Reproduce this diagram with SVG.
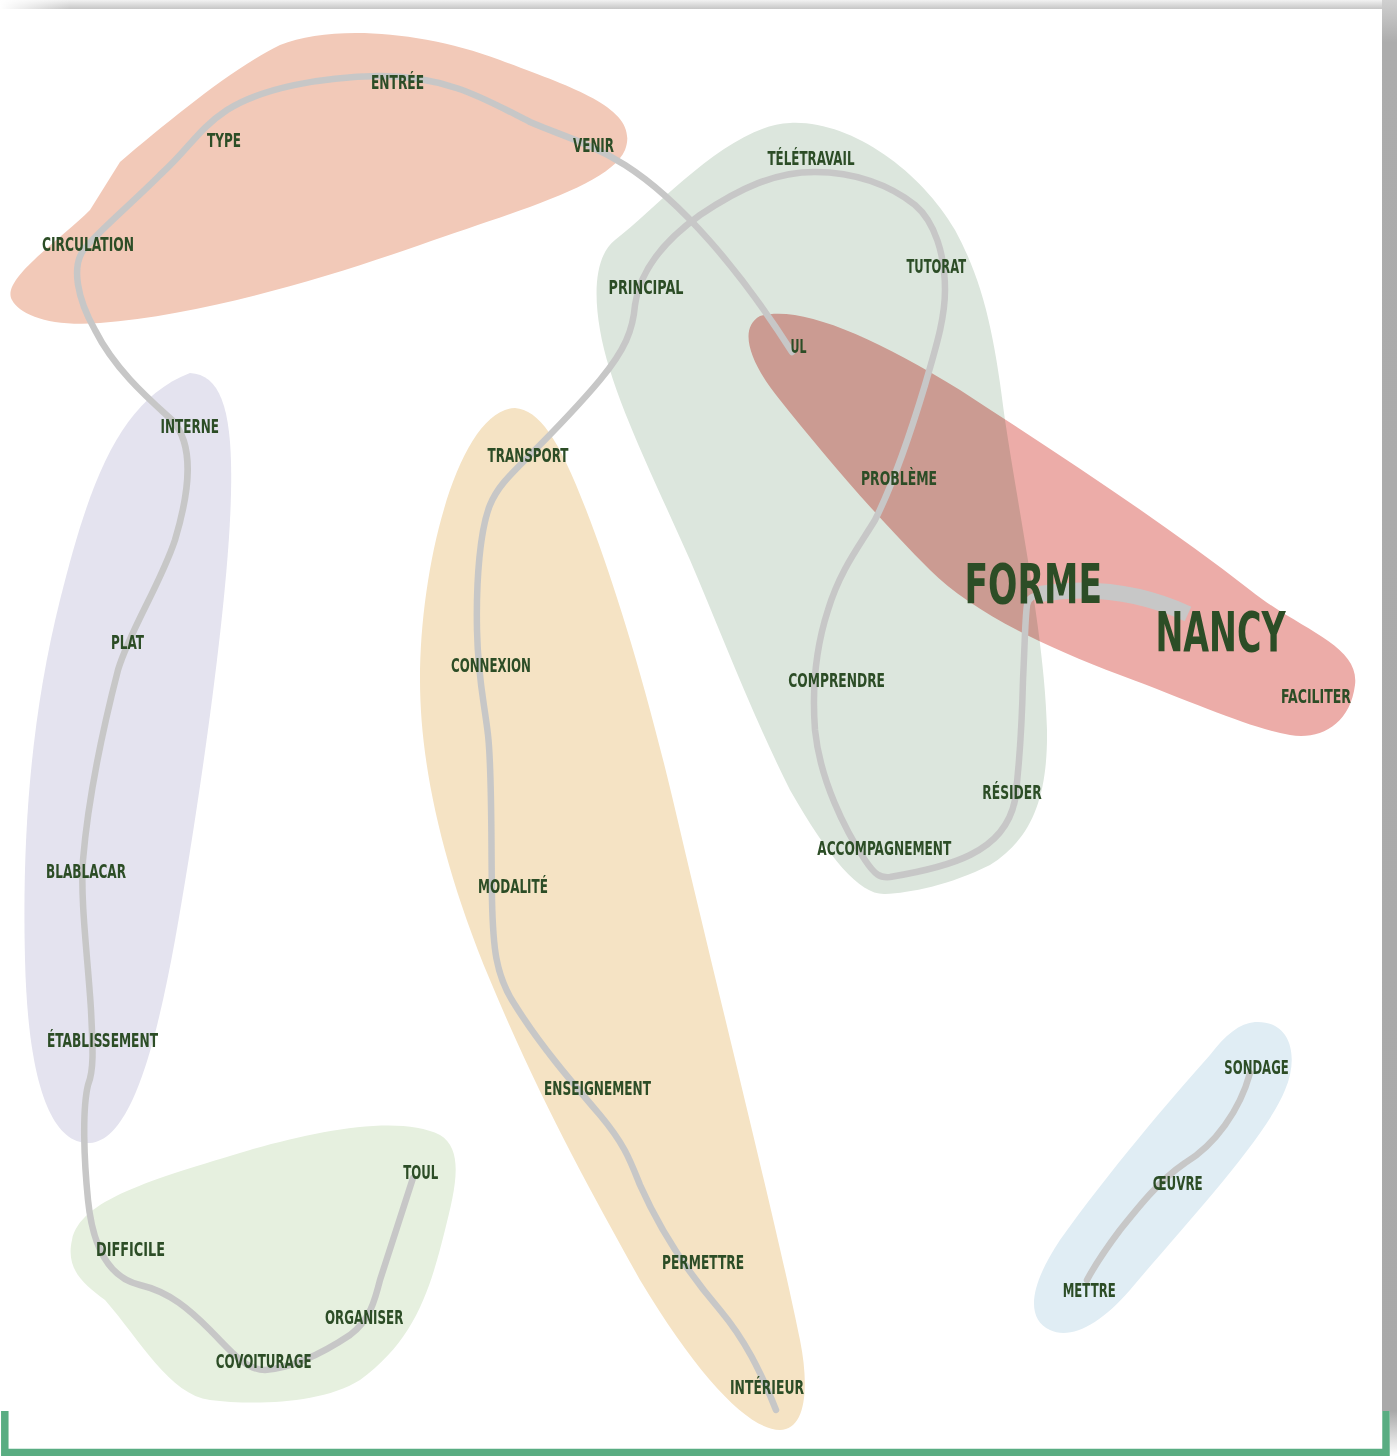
<svg xmlns="http://www.w3.org/2000/svg" width="1397" height="1456" viewBox="0 0 1397 1456">
<defs>
<linearGradient id="topShadow" x1="0" y1="0" x2="0" y2="1">
<stop offset="0" stop-color="#f2f2f2"/>
<stop offset="1" stop-color="#c6c6c6"/>
</linearGradient>
<linearGradient id="leftFade" x1="0" y1="0" x2="1" y2="0">
<stop offset="0" stop-color="#ffffff" stop-opacity="1"/>
<stop offset="1" stop-color="#ffffff" stop-opacity="0"/>
</linearGradient>
<linearGradient id="rightShadow" x1="0" y1="0" x2="0" y2="1">
<stop offset="0" stop-color="#d0d0d0"/>
<stop offset="0.03" stop-color="#acacac"/>
<stop offset="1" stop-color="#a9a9a9"/>
</linearGradient>
<linearGradient id="cornerFade" x1="0" y1="0" x2="0" y2="1">
<stop offset="0" stop-color="#a9a9a9"/>
<stop offset="1" stop-color="#ffffff"/>
</linearGradient>
<style>
.blob{mix-blend-mode:multiply;stroke:none}
.link{fill:none;stroke:#c7c7c7;stroke-width:6.5;stroke-linecap:round;stroke-linejoin:round}
.link-strong{fill:none;stroke:#c7c7c7;stroke-width:16;stroke-linecap:butt}
.lbl{font-family:"DejaVu Sans Condensed","DejaVu Sans","Liberation Sans",sans-serif;font-stretch:condensed;font-weight:bold;font-size:19px;fill:#2c4d26}
.big{font-size:55px}
</style>
</defs>

<!-- frame -->
<rect x="0" y="0" width="1397" height="1456" fill="#ffffff"/>
<rect x="0" y="0" width="1382" height="9" fill="url(#topShadow)"/>
<rect x="0" y="0" width="70" height="9" fill="url(#leftFade)"/>
<rect x="1382" y="0" width="15" height="1411" fill="url(#rightShadow)"/>
<rect x="1390" y="1411" width="7" height="45" fill="url(#cornerFade)"/>
<rect x="0" y="9" width="1382" height="1440" fill="#ffffff"/>
<path d="M 4.8,1411 V 1452.5 H 1386 V 1411" fill="none" stroke="#59ad82" stroke-width="7.5"/>

<!-- clusters -->
<g id="clusters">
<path class="blob" fill="#f2c9b8" d="M 12,300 C 0,280 60,240 90,210 L 120,162 C 170,120 230,70 280,45 C 330,25 420,30 500,60 C 580,90 640,110 625,150 C 610,185 520,210 420,245 C 320,280 200,315 100,323 C 50,327 20,315 12,300 Z"/>
<path class="blob" fill="#dce6dd" d="M 790,123 C 850,120 920,170 955,230 C 985,285 995,340 1005,420 C 1020,520 1045,640 1047,730 C 1048,800 1030,840 990,865 C 950,885 910,893 885,894 C 860,895 830,860 790,790 C 750,710 720,630 690,560 C 650,470 610,390 600,330 C 593,290 596,255 615,240 C 660,205 730,125 790,123 Z"/>
<path class="blob" fill="#ecaca8" d="M 760,316 C 800,305 870,335 960,390 C 1060,455 1160,520 1250,590 C 1300,630 1360,645 1355,685 C 1350,725 1320,740 1290,735 C 1250,728 1200,705 1120,675 C 1040,645 970,610 930,570 C 870,510 820,450 780,400 C 755,370 735,330 760,316 Z"/>
<path class="blob" fill="#e4e3ef" d="M 190,373 C 225,375 235,420 230,520 C 225,620 200,800 175,940 C 155,1050 130,1140 90,1143 C 50,1145 28,1080 25,960 C 22,840 30,720 60,600 C 90,480 120,400 190,373 Z"/>
<path class="blob" fill="#f5e3c4" d="M 515,408 C 540,410 560,440 590,520 C 620,600 650,700 680,830 C 720,1000 780,1240 800,1340 C 810,1390 805,1430 780,1430 C 750,1430 700,1380 640,1280 C 590,1190 540,1100 490,980 C 440,860 420,760 420,680 C 420,560 460,410 515,408 Z"/>
<path class="blob" fill="#e6f0df" d="M 72,1240 C 80,1200 150,1180 250,1150 C 320,1130 400,1115 440,1135 C 465,1150 455,1190 445,1230 C 430,1290 415,1340 360,1380 C 320,1405 250,1405 210,1400 C 170,1395 140,1340 105,1300 C 85,1285 65,1270 72,1240 Z"/>
<path class="blob" fill="#e0edf4" d="M 1255,1022 C 1290,1020 1300,1055 1285,1090 C 1265,1140 1180,1230 1130,1290 C 1100,1325 1070,1340 1050,1330 C 1025,1318 1030,1285 1060,1240 C 1110,1170 1170,1100 1210,1055 C 1225,1035 1240,1023 1255,1022 Z"/>
</g>

<!-- connectors -->
<g id="connectors">
<path class="link" d="M 792,352 C 740,270 680,200 625,165 C 590,143 560,135 530,122 C 490,102 450,76 380,76 C 320,77 262,88 227,110 C 197,130 190,148 160,175 C 130,205 100,230 85,248 C 70,266 78,300 95,330 C 115,370 150,400 172,420 C 195,445 190,490 175,540 C 160,585 130,630 118,670 C 100,740 88,800 83,860 C 80,900 88,960 91,1010 C 93,1050 94,1070 88,1085 C 82,1110 84,1160 88,1200 C 93,1250 110,1278 140,1285 C 170,1292 190,1310 210,1330 C 230,1350 245,1370 265,1370 C 290,1368 320,1355 350,1335 C 370,1320 375,1300 380,1280 L 413,1178"/>
<path class="link" d="M 776,1410 C 760,1370 745,1340 720,1310 C 690,1275 660,1230 640,1185 C 630,1160 625,1145 600,1115 C 570,1080 540,1045 515,1005 C 495,975 493,945 492,900 C 491,830 492,770 488,735 C 484,700 478,680 477,630 C 476,580 480,530 490,505 C 497,488 507,478 527,458 C 550,435 575,410 600,380 C 625,350 633,330 635,305 C 640,270 665,240 700,215 C 740,188 775,172 815,172 C 855,172 890,185 915,205 C 935,222 945,255 945,290 C 945,320 935,350 925,385 C 910,435 895,480 875,520 C 860,545 840,570 828,610 C 815,650 812,690 815,730 C 820,780 845,830 865,860 C 875,875 880,878 890,877 C 920,872 950,865 970,855 C 995,843 1010,825 1015,800 C 1020,760 1022,720 1023,680 C 1025,640 1025,620 1027,605 C 1028,598 1033,595 1045,594"/>
<path class="link-strong" d="M 1040,594 C 1090,586 1140,592 1188,614"/>
<path class="link" d="M 1250,1073 C 1240,1110 1215,1145 1185,1163 C 1160,1180 1140,1205 1120,1230 C 1105,1250 1095,1265 1087,1280"/>
</g>

<!-- nodes -->
<g id="n-entree"><text class="lbl" x="371" y="89" textLength="53" lengthAdjust="spacingAndGlyphs">ENTRÉE</text></g>
<g id="n-type"><text class="lbl" x="207" y="147" textLength="34" lengthAdjust="spacingAndGlyphs">TYPE</text></g>
<g id="n-venir"><text class="lbl" x="573" y="152" textLength="41" lengthAdjust="spacingAndGlyphs">VENIR</text></g>
<g id="n-circulation"><text class="lbl" x="42" y="250.5" textLength="92" lengthAdjust="spacingAndGlyphs">CIRCULATION</text></g>
<g id="n-teletravail"><text class="lbl" x="767.5" y="164.5" textLength="87" lengthAdjust="spacingAndGlyphs">TÉLÉTRAVAIL</text></g>
<g id="n-tutorat"><text class="lbl" x="906.5" y="272.5" textLength="59.5" lengthAdjust="spacingAndGlyphs">TUTORAT</text></g>
<g id="n-principal"><text class="lbl" x="608.5" y="294" textLength="75" lengthAdjust="spacingAndGlyphs">PRINCIPAL</text></g>
<g id="n-ul"><text class="lbl" x="790.5" y="352.5" textLength="16" lengthAdjust="spacingAndGlyphs">UL</text></g>
<g id="n-interne"><text class="lbl" x="160.5" y="432.5" textLength="58.5" lengthAdjust="spacingAndGlyphs">INTERNE</text></g>
<g id="n-transport"><text class="lbl" x="487.5" y="462.3" textLength="81" lengthAdjust="spacingAndGlyphs">TRANSPORT</text></g>
<g id="n-probleme"><text class="lbl" x="861" y="485" textLength="76" lengthAdjust="spacingAndGlyphs">PROBLÈME</text></g>
<g id="n-forme"><text class="lbl big" x="964.5" y="602.8" textLength="137.5" lengthAdjust="spacingAndGlyphs">FORME</text></g>
<g id="n-nancy"><text class="lbl big" x="1155.5" y="651" textLength="130" lengthAdjust="spacingAndGlyphs">NANCY</text></g>
<g id="n-plat"><text class="lbl" x="111" y="649" textLength="33" lengthAdjust="spacingAndGlyphs">PLAT</text></g>
<g id="n-connexion"><text class="lbl" x="451" y="672.3" textLength="80" lengthAdjust="spacingAndGlyphs">CONNEXION</text></g>
<g id="n-comprendre"><text class="lbl" x="788.3" y="686.7" textLength="96.7" lengthAdjust="spacingAndGlyphs">COMPRENDRE</text></g>
<g id="n-faciliter"><text class="lbl" x="1281" y="703" textLength="70" lengthAdjust="spacingAndGlyphs">FACILITER</text></g>
<g id="n-resider"><text class="lbl" x="982.3" y="799.3" textLength="59.4" lengthAdjust="spacingAndGlyphs">RÉSIDER</text></g>
<g id="n-accompagnement"><text class="lbl" x="817.3" y="855" textLength="134" lengthAdjust="spacingAndGlyphs">ACCOMPAGNEMENT</text></g>
<g id="n-blablacar"><text class="lbl" x="46" y="878" textLength="80" lengthAdjust="spacingAndGlyphs">BLABLACAR</text></g>
<g id="n-modalite"><text class="lbl" x="478" y="893" textLength="70" lengthAdjust="spacingAndGlyphs">MODALITÉ</text></g>
<g id="n-etablissement"><text class="lbl" x="47" y="1047" textLength="111" lengthAdjust="spacingAndGlyphs">ÉTABLISSEMENT</text></g>
<g id="n-sondage"><text class="lbl" x="1224.3" y="1074.3" textLength="64.4" lengthAdjust="spacingAndGlyphs">SONDAGE</text></g>
<g id="n-enseignement"><text class="lbl" x="544" y="1095" textLength="107" lengthAdjust="spacingAndGlyphs">ENSEIGNEMENT</text></g>
<g id="n-toul"><text class="lbl" x="403.3" y="1179.3" textLength="35" lengthAdjust="spacingAndGlyphs">TOUL</text></g>
<g id="n-oeuvre"><text class="lbl" x="1152.7" y="1190" textLength="50" lengthAdjust="spacingAndGlyphs">ŒUVRE</text></g>
<g id="n-difficile"><text class="lbl" x="96" y="1255.7" textLength="69" lengthAdjust="spacingAndGlyphs">DIFFICILE</text></g>
<g id="n-permettre"><text class="lbl" x="662" y="1269" textLength="82" lengthAdjust="spacingAndGlyphs">PERMETTRE</text></g>
<g id="n-mettre"><text class="lbl" x="1062.7" y="1296.7" textLength="53" lengthAdjust="spacingAndGlyphs">METTRE</text></g>
<g id="n-organiser"><text class="lbl" x="325" y="1324" textLength="78.3" lengthAdjust="spacingAndGlyphs">ORGANISER</text></g>
<g id="n-covoiturage"><text class="lbl" x="215.7" y="1367.7" textLength="96" lengthAdjust="spacingAndGlyphs">COVOITURAGE</text></g>
<g id="n-interieur"><text class="lbl" x="730" y="1394" textLength="74" lengthAdjust="spacingAndGlyphs">INTÉRIEUR</text></g>
</svg>
